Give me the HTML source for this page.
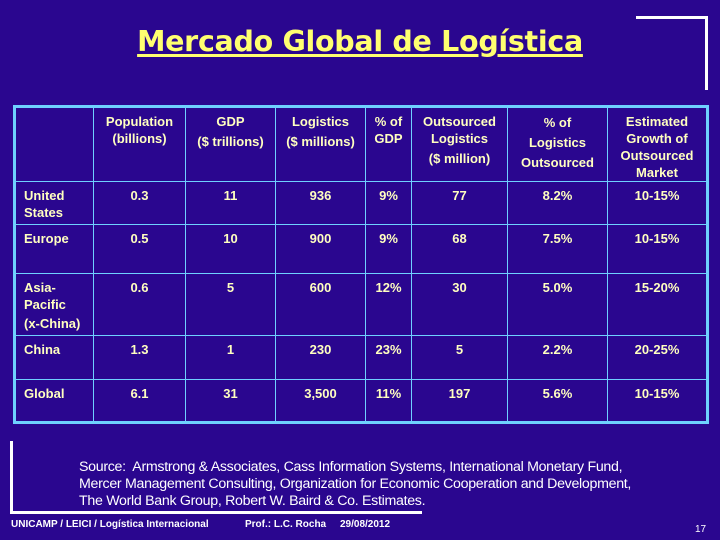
<!DOCTYPE html>
<html><head><meta charset="utf-8"><style>
body{margin:0;width:720px;height:540px;background:#2a068f;overflow:hidden;position:relative;font-family:"Liberation Sans",Arial,sans-serif}
.t{position:absolute;left:0;top:25px;width:720px;text-align:center;font-family:"DejaVu Sans",sans-serif;font-weight:bold;font-size:28.5px;color:#ffff70;text-decoration:underline;text-decoration-thickness:3px;text-underline-offset:3px;letter-spacing:-0.3px}
table{position:absolute;left:13px;top:105px;width:696px;height:317px;border-collapse:collapse;table-layout:fixed;border:3px solid #6fd0ff}
td{border:1px solid #6fd0ff;color:#ffffc0;font-weight:bold;font-size:13px;vertical-align:top;text-align:center;padding:5px 3px 0 3px;line-height:17px}
td.l{text-align:left;padding-left:8px}
.ln{position:absolute;background:#fff}
.src{position:absolute;left:79px;top:459px;color:#fff;font-size:14.2px;line-height:17px;letter-spacing:-0.3px}
.ft{position:absolute;top:519px;color:#fff;font-size:10px;font-weight:bold;font-family:"Liberation Sans Narrow","Liberation Sans",sans-serif}
</style></head><body>
<div class="t">Mercado Global de Logística</div>
<div class="ln" style="left:636px;top:16px;width:72px;height:3px"></div>
<div class="ln" style="left:705px;top:16px;width:3px;height:74px"></div>
<table>
<colgroup><col style="width:79px"><col style="width:92px"><col style="width:90px"><col style="width:90px"><col style="width:46px"><col style="width:96px"><col style="width:100px"><col style="width:100px"></colgroup>
<tr style="height:75px"><td></td><td>Population<br>(billions)</td><td>GDP<br><span style="line-height:24px">($ trillions)</span></td><td>Logistics<br><span style="line-height:24px">($ millions)</span></td><td>% of<br>GDP</td><td>Outsourced<br>Logistics<br><span style="line-height:24px">($ million)</span></td><td><span style="line-height:20px">% of<br>Logistics<br>Outsourced</span></td><td>Estimated<br>Growth of<br>Outsourced<br>Market</td></tr>
<tr style="height:43px"><td class="l">United<br>States</td><td>0.3</td><td>11</td><td>936</td><td>9%</td><td>77</td><td>8.2%</td><td>10-15%</td></tr>
<tr style="height:49px"><td class="l">Europe</td><td>0.5</td><td>10</td><td>900</td><td>9%</td><td>68</td><td>7.5%</td><td>10-15%</td></tr>
<tr style="height:61px"><td class="l">Asia-<br>Pacific<br><span style="line-height:22px">(x-China)</span></td><td>0.6</td><td>5</td><td>600</td><td>12%</td><td>30</td><td>5.0%</td><td>15-20%</td></tr>
<tr style="height:44px"><td class="l">China</td><td>1.3</td><td>1</td><td>230</td><td>23%</td><td>5</td><td>2.2%</td><td>20-25%</td></tr>
<tr style="height:43px"><td class="l">Global</td><td>6.1</td><td>31</td><td>3,500</td><td>11%</td><td>197</td><td>5.6%</td><td>10-15%</td></tr>
</table>
<div class="ln" style="left:10px;top:441px;width:3px;height:73px"></div>
<div class="ln" style="left:10px;top:511px;width:412px;height:3px"></div>
<div class="src">Source:&nbsp; Armstrong &amp; Associates, Cass Information Systems, International Monetary Fund,<br>Mercer Management Consulting, Organization for Economic Cooperation and Development,<br>The World Bank Group, Robert W. Baird &amp; Co. Estimates.</div>
<div class="ft" style="left:11px">UNICAMP / LEICI / Logística Internacional</div>
<div class="ft" style="left:245px">Prof.: L.C. Rocha</div>
<div class="ft" style="left:340px">29/08/2012</div>
<div class="ft" style="left:695px;top:524px;font-weight:normal">17</div>
</body></html>
